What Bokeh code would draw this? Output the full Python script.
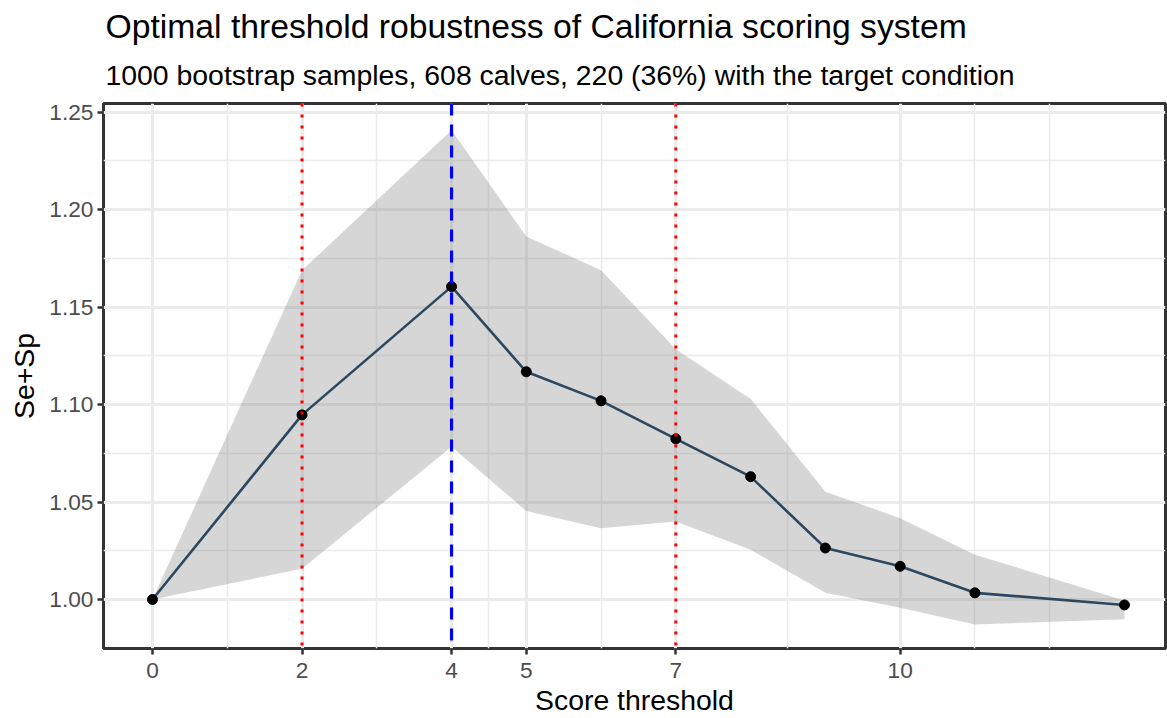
from bokeh.plotting import figure
from bokeh.models import Title, Span, FixedTicker, PrintfTickFormatter
from bokeh.embed import file_html
from bokeh.resources import INLINE

# ---- data ----
thresholds = [0, 2, 4, 5, 6, 7, 8, 9, 10, 11, 13]
se_sp      = [1.0000, 1.0947, 1.1605, 1.1168, 1.1019, 1.0824, 1.0630, 1.0264, 1.0170, 1.0034, 0.9972]
lower_ci   = [1.0000, 1.0158, 1.0783, 1.0454, 1.0366, 1.0400, 1.0255, 1.0034, 0.9958, 0.9872, 0.9898]
upper_ci   = [1.0000, 1.1689, 1.2407, 1.1862, 1.1689, 1.1284, 1.1029, 1.0553, 1.0417, 1.0230, 0.9995]
cutoffs_red = [2, 7]
optimal_cutoff = [4]
x_ticks = [0, 2, 4, 5, 7, 10]
x_minor = [1, 3, 4.5, 6, 8.5, 11, 12]
y_ticks = [1.00, 1.05, 1.10, 1.15, 1.20, 1.25]
y_minor = [1.025, 1.075, 1.125, 1.175, 1.225]

title_text = "Optimal threshold robustness of California scoring system"
subtitle_text = "1000 bootstrap samples, 608 calves, 220 (36%) with the target condition"
x_label = "Score threshold"
y_label = "Se+Sp"

FONT = "Liberation Sans"

p = figure(width=1167, height=718, x_range=(-0.655, 13.549), y_range=(0.97485, 1.25444),
           output_backend="svg", toolbar_location=None,
           min_border_left=103, min_border_right=2, min_border_top=103, min_border_bottom=67)

p.background_fill_color = "white"
p.border_fill_color = "white"
p.outline_line_color = "#333333"
p.outline_line_width = 3

# titles (subtitle first = nearest the frame)
sub = Title(text=subtitle_text, text_font=FONT, text_font_size="28.4px",
            text_font_style="normal", text_color="black", align="left", offset=2, standoff=25)
p.add_layout(sub, "above")
main = Title(text=title_text, text_font=FONT, text_font_size="33.7px",
             text_font_style="normal", text_color="black", align="left", offset=2, standoff=0)
p.add_layout(main, "above")

# ribbon, line, points
p.varea(x=thresholds, y1=lower_ci, y2=upper_ci, fill_color="#7F7F7F", fill_alpha=0.32)
p.line(thresholds, se_sp, line_color="#2C4860", line_width=2.6)
p.scatter(thresholds, se_sp, size=10, fill_color="black", line_color="black")

# vertical reference lines
for c in cutoffs_red:
    p.add_layout(Span(location=c, dimension="height", line_color="red",
                      line_width=3, line_dash="3 8"))
for c in optimal_cutoff:
    p.add_layout(Span(location=c, dimension="height", line_color="blue",
                      line_width=3.2, line_dash="12 9"))

# axes
p.xaxis.ticker = FixedTicker(ticks=x_ticks, minor_ticks=x_minor)
p.yaxis.ticker = FixedTicker(ticks=y_ticks, minor_ticks=y_minor)
p.yaxis.formatter = PrintfTickFormatter(format="%.2f")

for ax in (p.xaxis, p.yaxis):
    ax.axis_line_color = None
    ax.major_tick_line_color = "#333333"
    ax.major_tick_line_width = 2.5
    ax.major_tick_out = 6
    ax.major_tick_in = 0
    ax.minor_tick_line_color = None
    ax.major_label_text_font = FONT
    ax.major_label_text_font_size = "22.7px"
    ax.major_label_text_color = "#4D4D4D"
    ax.axis_label_text_font = FONT
    ax.axis_label_text_font_size = "28.4px"
    ax.axis_label_text_font_style = "normal"
    ax.axis_label_text_color = "black"

p.xaxis.axis_label = x_label
p.yaxis.axis_label = y_label
p.xaxis.major_label_standoff = 8
p.xaxis.axis_label_standoff = 3
p.yaxis.major_label_standoff = 4
p.yaxis.axis_label_standoff = 6

# grid
for g in (p.xgrid, p.ygrid):
    g.grid_line_color = "#EBEBEB"
    g.grid_line_width = 3
    g.minor_grid_line_color = "#EBEBEB"
    g.minor_grid_line_width = 1.5

open("out.html", "w").write(file_html(p, INLINE))
